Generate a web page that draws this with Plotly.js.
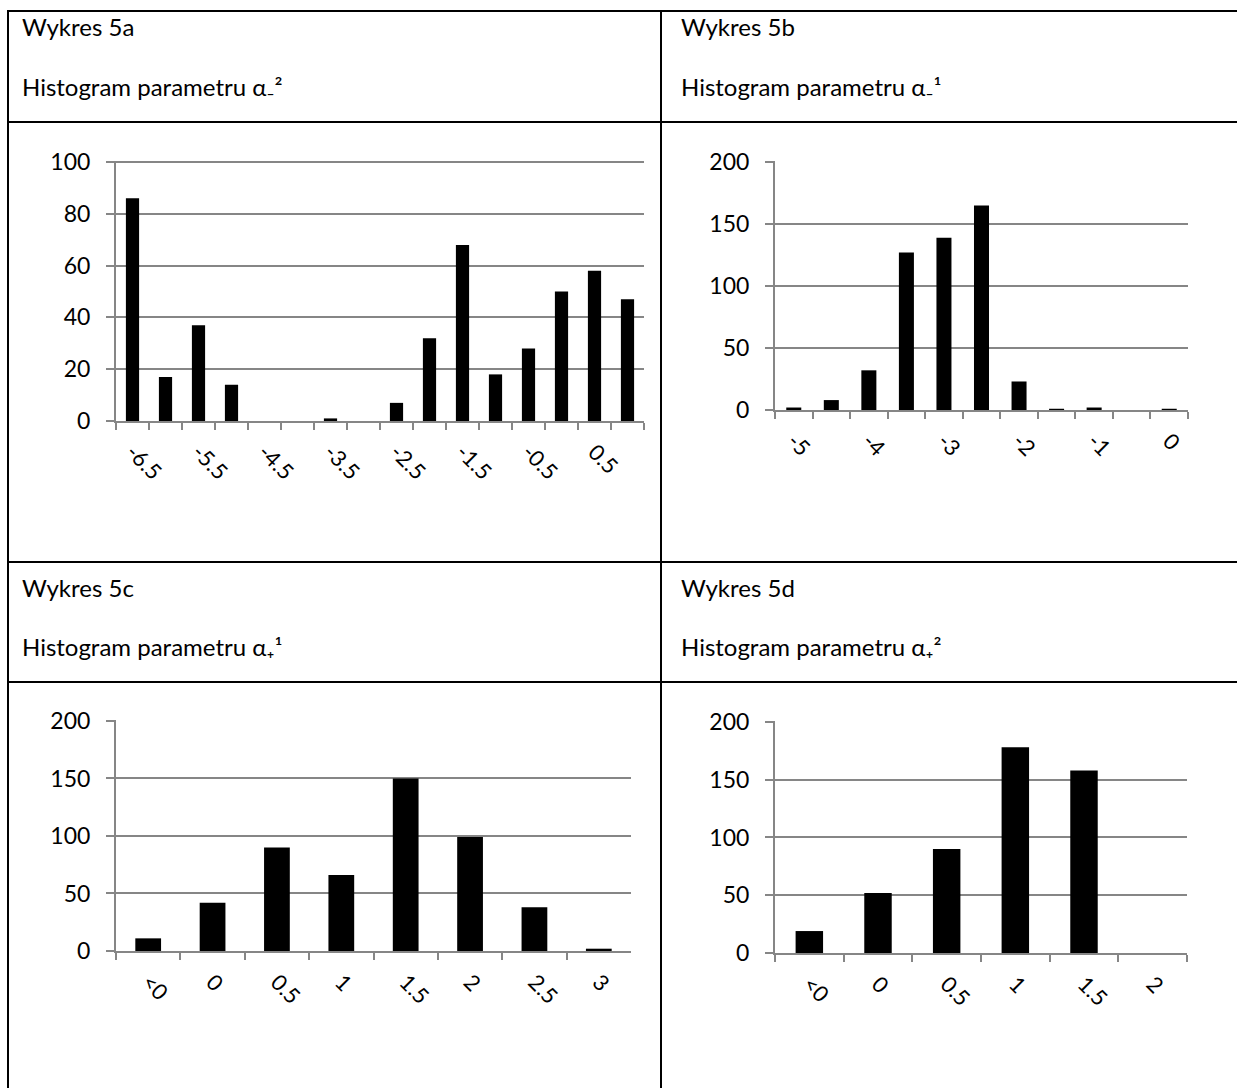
<!DOCTYPE html>
<html><head><meta charset="utf-8">
<script src="https://cdn.plot.ly/plotly-3.0.1.min.js"></script>
<style>html,body{margin:0;padding:0;background:#fff}</style>
</head><body><div id="chart" style="width:1237px;height:1088px"></div>
<script>
const catsA = ['-6.5','-6','-5.5','-5','-4.5','-4','-3.5','-3','-2.5','-2','-1.5','-1','-0.5','0','0.5','1'];
const valsA = [86,17,37,14,0,0,1,0,7,32,68,18,28,50,58,47];
const catsB = ['-5','-4.5','-4','-3.5','-3','-2.5','-2','-1.5','-1','-0.5','0'];
const valsB = [2,8,32,127,139,165,23,1,2,0,1];
const catsC = ['<0','0','0.5','1','1.5','2','2.5','3'];
const valsC = [11,42,90,66,150,99,38,2];
const catsD = ['<0','0','0.5','1','1.5','2'];
const valsD = [19,52,90,178,158,0];
const headers = ['Wykres 5a','Wykres 5b','Wykres 5c','Wykres 5d'];
const subtitles = ['Histogram parametru α₋²','Histogram parametru α₋¹',
                   'Histogram parametru α₊¹','Histogram parametru α₊²'];
const yMax = [100,200,200,200];
const yStep = [20,50,50,50];
const labelEvery = [2,2,1,1];

const W = 1237, H = 1088;
const px = v => v / W;
const py = v => 1 - v / H;
// pixel boxes [x0,x1,ytop,ybottom]
const boxes = [[116,644,161,421],[775,1188,161,410],[116,631,720,951],[775,1187,721,953]];
const cats = [catsA,catsB,catsC,catsD];
const vals = [valsA,valsB,valsC,valsD];
const esc = s => s.replace(/</g,'&lt;');

const data = [], layout = {
  width: W, height: H, margin:{l:0,r:0,t:0,b:0}, showlegend:false,
  paper_bgcolor:'#fff', plot_bgcolor:'#fff', bargap:0.6,
  font:{family:'Lato, "Noto Sans", "DejaVu Sans", sans-serif', color:'#000'},
  annotations:[], shapes:[]
};
const grey = '#868686';
for (let i=0;i<4;i++){
  const k = i===0?'':String(i+1);
  const ko = String(i+5);
  const n = cats[i].length;
  data.push({type:'bar', x:cats[i], y:vals[i], xaxis:'x'+k, yaxis:'y'+k,
    marker:{color:'#000', line:{width:0}}, hoverinfo:'x+y'});
  // carrier of category positions for the label axis (draws nothing)
  data.push({type:'scatter', mode:'lines', x:cats[i], y:cats[i].map(()=>null), xaxis:'x'+ko, yaxis:'y'+k,
    hoverinfo:'skip', line:{width:0}});
  const b = boxes[i];
  layout['xaxis'+k] = {domain:[px(b[0]),px(b[1])], anchor:'y'+k, type:'category',
    range:[-0.5, n-0.5], showticklabels:false,
    tickson:'boundaries', ticks:'outside', ticklen:7, tickcolor:grey, tickwidth:2,
    showline:true, linecolor:grey, linewidth:2, showgrid:false, zeroline:false, fixedrange:true};
  const labelled = cats[i].filter((c,j)=> j%labelEvery[i]===0);
  layout['xaxis'+ko] = {domain:[px(b[0]),px(b[1])], anchor:'y'+k, overlaying:'x'+k, side:'bottom',
    type:'category', range:[-0.5, n-0.5], tickvals:labelled, ticktext:labelled.map(esc),
    ticks:'', showline:false, showgrid:false, zeroline:false, ticklabelstandoff:13,
    tickangle:45, tickfont:{size:22, color:'#000'}, fixedrange:true};
  layout['yaxis'+k] = {domain:[py(b[3]),py(b[2])], anchor:'x'+k, range:[0,yMax[i]*1.004],
    tickvals:Array.from({length:yMax[i]/yStep[i]+1},(_,j)=>j*yStep[i]),
    showgrid:true, gridcolor:grey, gridwidth:2, ticks:'outside', ticklen:8, tickcolor:grey, tickwidth:2,
    showline:true, linecolor:grey, linewidth:2, zeroline:false, ticklabelstandoff:11,
    tickfont:{size:23, color:'#000'}, fixedrange:true};
  const col = i%2, row = Math.floor(i/2);
  const tx = col===0?20:679;
  const ty1 = row===0?27:587, ty2 = row===0?86:646;
  layout.annotations.push({xref:'paper',yref:'paper',x:px(tx),y:py(ty1),xanchor:'left',yanchor:'middle',
    text:headers[i],showarrow:false,font:{size:24,color:'#000'}});
  layout.annotations.push({xref:'paper',yref:'paper',x:px(tx),y:py(ty2),xanchor:'left',yanchor:'middle',
    text:subtitles[i],showarrow:false,font:{size:24,color:'#000'}});
}
const lineS = (x0,y0,x1,y1)=>({type:'line',xref:'paper',yref:'paper',x0:px(x0),y0:py(y0),x1:px(x1),y1:py(y1),
  line:{color:'#000',width:2}});
layout.shapes.push(lineS(7,11,1237,11));
layout.shapes.push(lineS(7,122,1237,122));
layout.shapes.push(lineS(7,562,1237,562));
layout.shapes.push(lineS(7,682,1237,682));
layout.shapes.push(lineS(8,11,8,1088));
layout.shapes.push(lineS(661,11,661,1088));
Plotly.newPlot('chart', data, layout, {displayModeBar:false, staticPlot:true});
</script></body></html>
